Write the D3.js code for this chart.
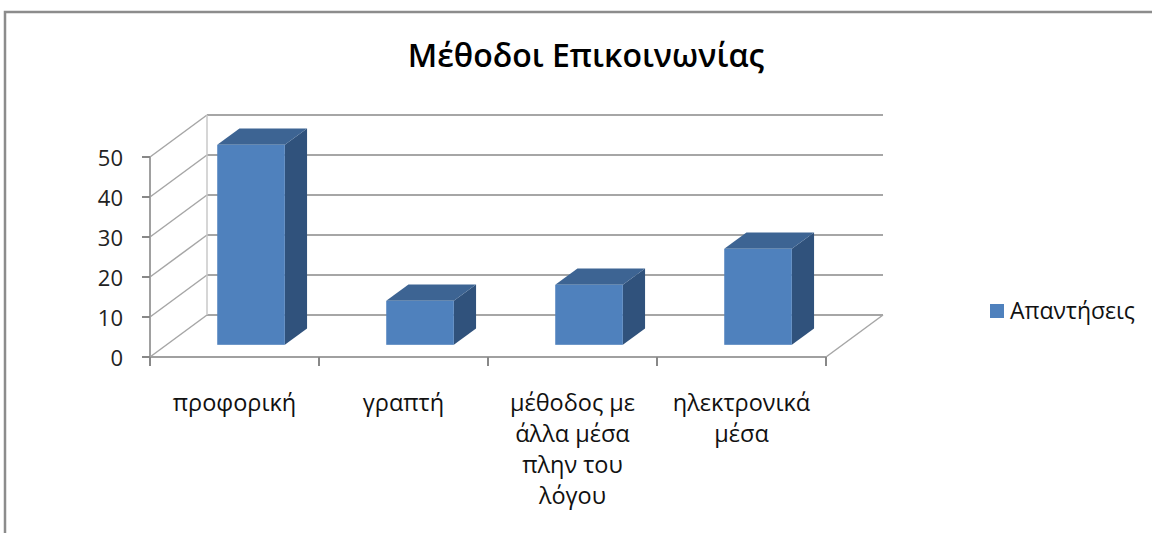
<!DOCTYPE html>
<html><head><meta charset="utf-8">
<script src="https://cdn.jsdelivr.net/npm/d3@7"></script>
<style>body{margin:0;background:#fff}svg{display:block}text{font-family:"Open Sans","Noto Sans",sans-serif}</style>
</head><body><svg id="c" width="1152" height="533"></svg>
<script>
const title = "Μέθοδοι Επικοινωνίας";
const categories = ["προφορική", "γραπτή", "μέθοδος με άλλα μέσα πλην του λόγου", "ηλεκτρονικά μέσα"];
const categoryLines = [["προφορική"], ["γραπτή"], ["μέθοδος με", "άλλα μέσα", "πλην του", "λόγου"], ["ηλεκτρονικά", "μέσα"]];
const seriesName = "Απαντήσεις";
const values = [50, 11, 15, 24];
const yTicks = [0, 10, 20, 30, 40, 50];

const svg = d3.select("#c");
const W = 1152, H = 533;
svg.append("path").attr("d", `M5,${H} L5,12 L${W},12`).attr("fill","none").attr("stroke","#8c8c8c").attr("stroke-width",2.5);

svg.append("text").attr("x", 586).attr("y", 56).attr("dy","0.35em").attr("text-anchor","middle")
  .attr("font-size", 32).attr("font-weight", 600).attr("fill","#000").text(title);

const x = d3.scaleBand().domain(categories).range([150, 826]).paddingInner(0.6).paddingOuter(0.3);
const y = d3.scaleLinear().domain([0, 50]).range([357, 157]);
const DX = 57, DY = -42;
const off = t => [DX * t, DY * t];
const t0 = 0.29, t1 = 0.68;
const [x0, x1] = x.range();

const grid = svg.append("g");
yTicks.forEach(v => {
  grid.append("line").attr("x1", x0 + DX).attr("x2", x1 + DX).attr("y1", y(v) + DY).attr("y2", y(v) + DY)
    .attr("stroke", "#a6a6a6").attr("stroke-width", 2);
  grid.append("line").attr("x1", x0).attr("x2", x0 + DX).attr("y1", y(v)).attr("y2", y(v) + DY)
    .attr("stroke", "#a6a6a6").attr("stroke-width", 1.5);
});
grid.append("line").attr("x1", x0 + DX).attr("x2", x0 + DX).attr("y1", y(0) + DY).attr("y2", y(50) + DY)
  .attr("stroke", "#c8c8c8").attr("stroke-width", 1.5);
grid.append("line").attr("x1", x1).attr("x2", x1 + DX).attr("y1", y(0)).attr("y2", y(0) + DY)
  .attr("stroke", "#a6a6a6").attr("stroke-width", 1.5);
grid.append("line").attr("x1", x0).attr("x2", x0).attr("y1", y(0)).attr("y2", y(50)).attr("stroke","#a0a0a0").attr("stroke-width",2);
grid.append("line").attr("x1", x0).attr("x2", x1).attr("y1", y(0)).attr("y2", y(0)).attr("stroke","#a0a0a0").attr("stroke-width",2);
yTicks.forEach(v => {
  grid.append("line").attr("x1", x0 - 8).attr("x2", x0).attr("y1", y(v)).attr("y2", y(v)).attr("stroke","#888").attr("stroke-width",2);
  svg.append("text").attr("x", 123).attr("y", y(v) + 1).attr("dy","0.35em").attr("text-anchor","end")
    .attr("font-size", 22).attr("fill","#222").text(v);
});
const step = x.step();
d3.range(categories.length + 1).forEach(i => {
  const xx = x0 + i * step;
  grid.append("line").attr("x1", xx).attr("x2", xx).attr("y1", y(0)).attr("y2", y(0) + 9).attr("stroke","#888").attr("stroke-width",2);
});

const [fdx, fdy] = off(t0);
const [bdx, bdy] = [DX * (t1 - t0), DY * (t1 - t0)];
const bars = svg.append("g").selectAll("g").data(categories).join("g");
bars.each(function(c, i) {
  const g = d3.select(this);
  const L = x(c) + fdx, R = L + x.bandwidth();
  const T = y(values[i]) + fdy, B = y(0) + fdy;
  g.append("path").attr("d", `M${R},${B} L${R},${T} L${R+bdx},${T+bdy} L${R+bdx},${B+bdy} Z`).attr("fill", "#30527c");
  g.append("path").attr("d", `M${L},${T} L${R},${T} L${R+bdx},${T+bdy} L${L+bdx},${T+bdy} Z`).attr("fill", "#3d6493");
  g.append("rect").attr("x", L).attr("y", T).attr("width", R - L).attr("height", B - T).attr("fill", "#4f81bd");
});

categories.forEach((c, i) => {
  const cx = x0 + (i + 0.5) * step;
  const t = svg.append("text").attr("text-anchor","middle").attr("font-size", 23.5).attr("fill","#111");
  categoryLines[i].forEach((ln, j) => {
    t.append("tspan").attr("x", cx).attr("y", 403 + j * 31).attr("dy", "0.35em").text(ln);
  });
});

svg.append("rect").attr("x", 990).attr("y", 304).attr("width", 14).attr("height", 14).attr("fill", "#4f81bd");
svg.append("text").attr("x", 1010).attr("y", 311).attr("dy","0.35em").attr("font-size", 23).attr("fill","#111").text(seriesName);
</script></body></html>
